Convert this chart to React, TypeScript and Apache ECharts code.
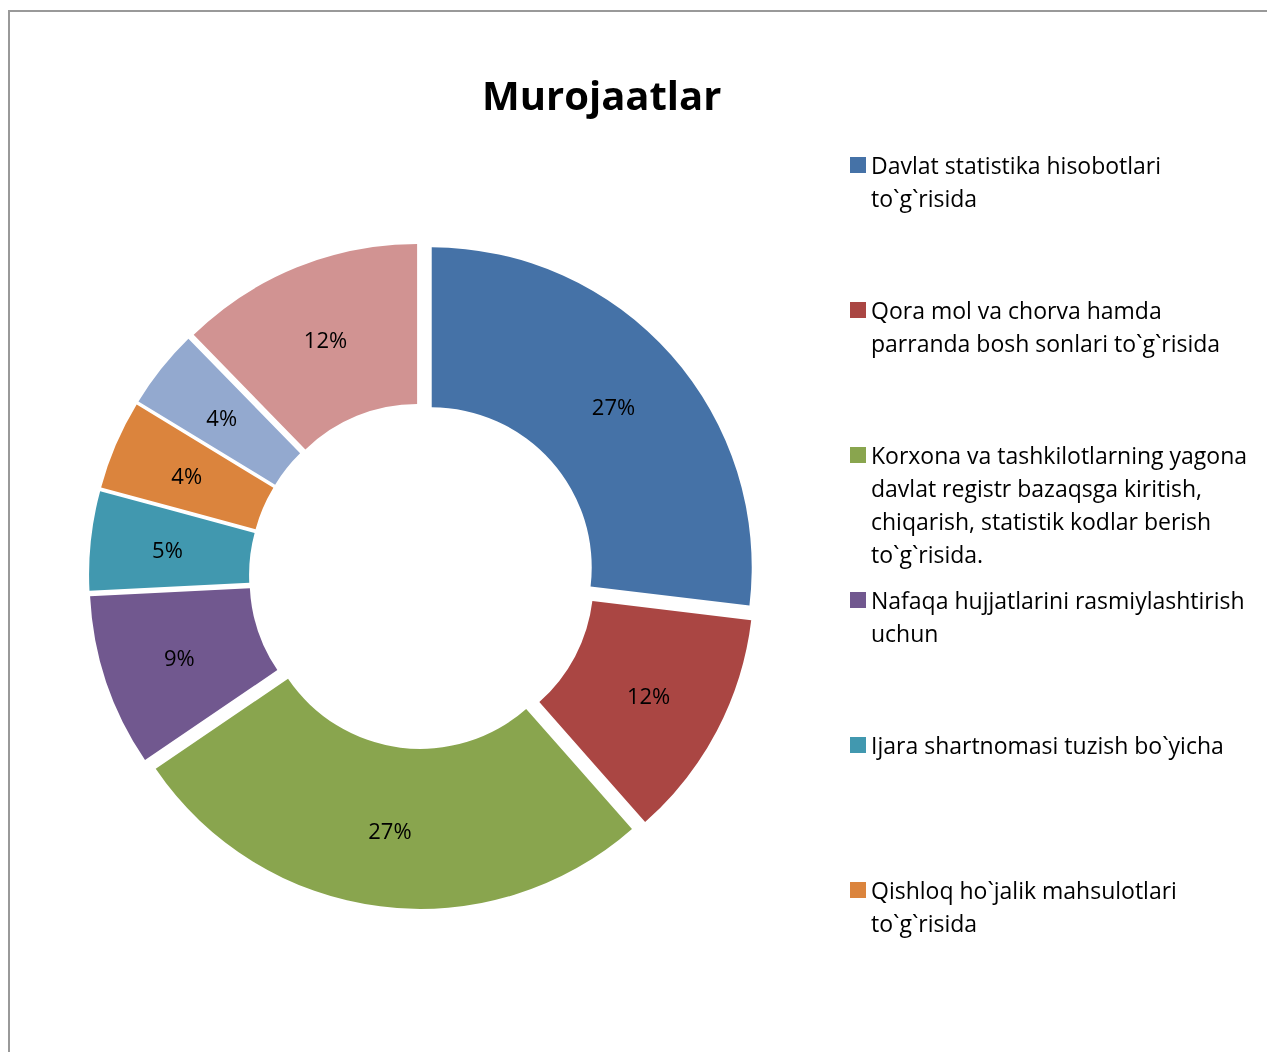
import React, { useEffect, useRef } from "react";
import * as echarts from "echarts";

const titleText = "Murojaatlar";

const categories = [
  "Davlat statistika hisobotlari to`g`risida",
  "Qora mol va chorva hamda parranda bosh sonlari to`g`risida",
  "Korxona va tashkilotlarning yagona davlat registr bazaqsga kiritish, chiqarish, statistik kodlar berish to`g`risida.",
  "Nafaqa hujjatlarini rasmiylashtirish uchun",
  "Ijara shartnomasi tuzish bo`yicha",
  "Qishloq ho`jalik mahsulotlari to`g`risida",
  "Boshqa (7)",
  "Boshqa (8)",
];

const legendLines = [
  ["Davlat statistika hisobotlari", "to`g`risida"],
  ["Qora mol va chorva hamda", "parranda bosh sonlari to`g`risida"],
  [
    "Korxona va tashkilotlarning yagona",
    "davlat registr bazaqsga kiritish,",
    "chiqarish, statistik kodlar berish",
    "to`g`risida.",
  ],
  ["Nafaqa hujjatlarini rasmiylashtirish", "uchun"],
  ["Ijara shartnomasi tuzish bo`yicha"],
  ["Qishloq ho`jalik mahsulotlari", "to`g`risida"],
];

// shares (labels round to 27,12,27,9,5,4,4,12 %)
const values = [26.9, 11.6, 27.0, 8.7, 5.0, 4.5, 4.0, 12.3];

const colors = [
  "#4572A7",
  "#AA4643",
  "#89A54E",
  "#71588F",
  "#4198AF",
  "#DB843D",
  "#93A9CF",
  "#D19392",
];

const FONT = "'Open Sans', 'Noto Sans', sans-serif";

export default function App() {
  const ref = useRef<HTMLDivElement>(null);

  useEffect(() => {
    if (!ref.current) return;
    const chart = echarts.init(ref.current, null, { renderer: "svg" });

    const lineH = 33;
    const iconSize = 16;
    const legendLeft = 850;
    const legendTop0 = 157;
    const legendStep = 145;

    const legends = legendLines.map((lines, i) => {
      const n = lines.length;
      // blank lines above make the first line sit level with the icon
      const offset = ((2 * n - 1) * lineH) / 2 - iconSize / 2;
      const text = "\n".repeat(n - 1) + lines.join("\n");
      return {
        show: true,
        left: legendLeft,
        top: legendTop0 + legendStep * i - offset,
        padding: 0,
        orient: "vertical",
        icon: "rect",
        itemWidth: iconSize,
        itemHeight: iconSize,
        data: [categories[i]],
        formatter: () => text,
        textStyle: {
          color: "#000",
          fontSize: 23,
          fontFamily: FONT,
          lineHeight: lineH,
        },
      };
    });

    chart.setOption({
      animation: false,
      title: {
        text: titleText,
        left: 482,
        top: 74,
        padding: 0,
        textStyle: {
          color: "#000",
          fontSize: 40,
          fontWeight: "bold",
          fontFamily: FONT,
        },
      },
      legend: legends,
      series: [
        {
          type: "pie",
          center: [422, 576],
          radius: [160, 320],
          startAngle: 90,
          clockwise: true,
          selectedMode: "multiple",
          selectedOffset: 13,
          avoidLabelOverlap: false,
          percentPrecision: 0,
          label: {
            show: true,
            position: "inside",
            formatter: "{d}%",
            color: "#000",
            fontSize: 22,
            fontFamily: FONT,
          },
          labelLine: { show: false },
          emphasis: { disabled: true },
          data: values.map((v, i) => ({
            name: categories[i],
            value: v,
            selected: true,
            itemStyle: { color: colors[i] },
          })),
        },
      ],
    });

    return () => chart.dispose();
  }, []);

  return (
    <>
      <div
        style={{
          position: "fixed",
          left: 8,
          top: 10,
          width: 1259,
          height: 1042,
          borderLeft: "2px solid #999999",
          borderTop: "2px solid #999999",
          boxSizing: "border-box",
        }}
      />
      <div
        ref={ref}
        style={{ position: "fixed", left: 0, top: 0, width: 1267, height: 1052 }}
      />
    </>
  );
}
